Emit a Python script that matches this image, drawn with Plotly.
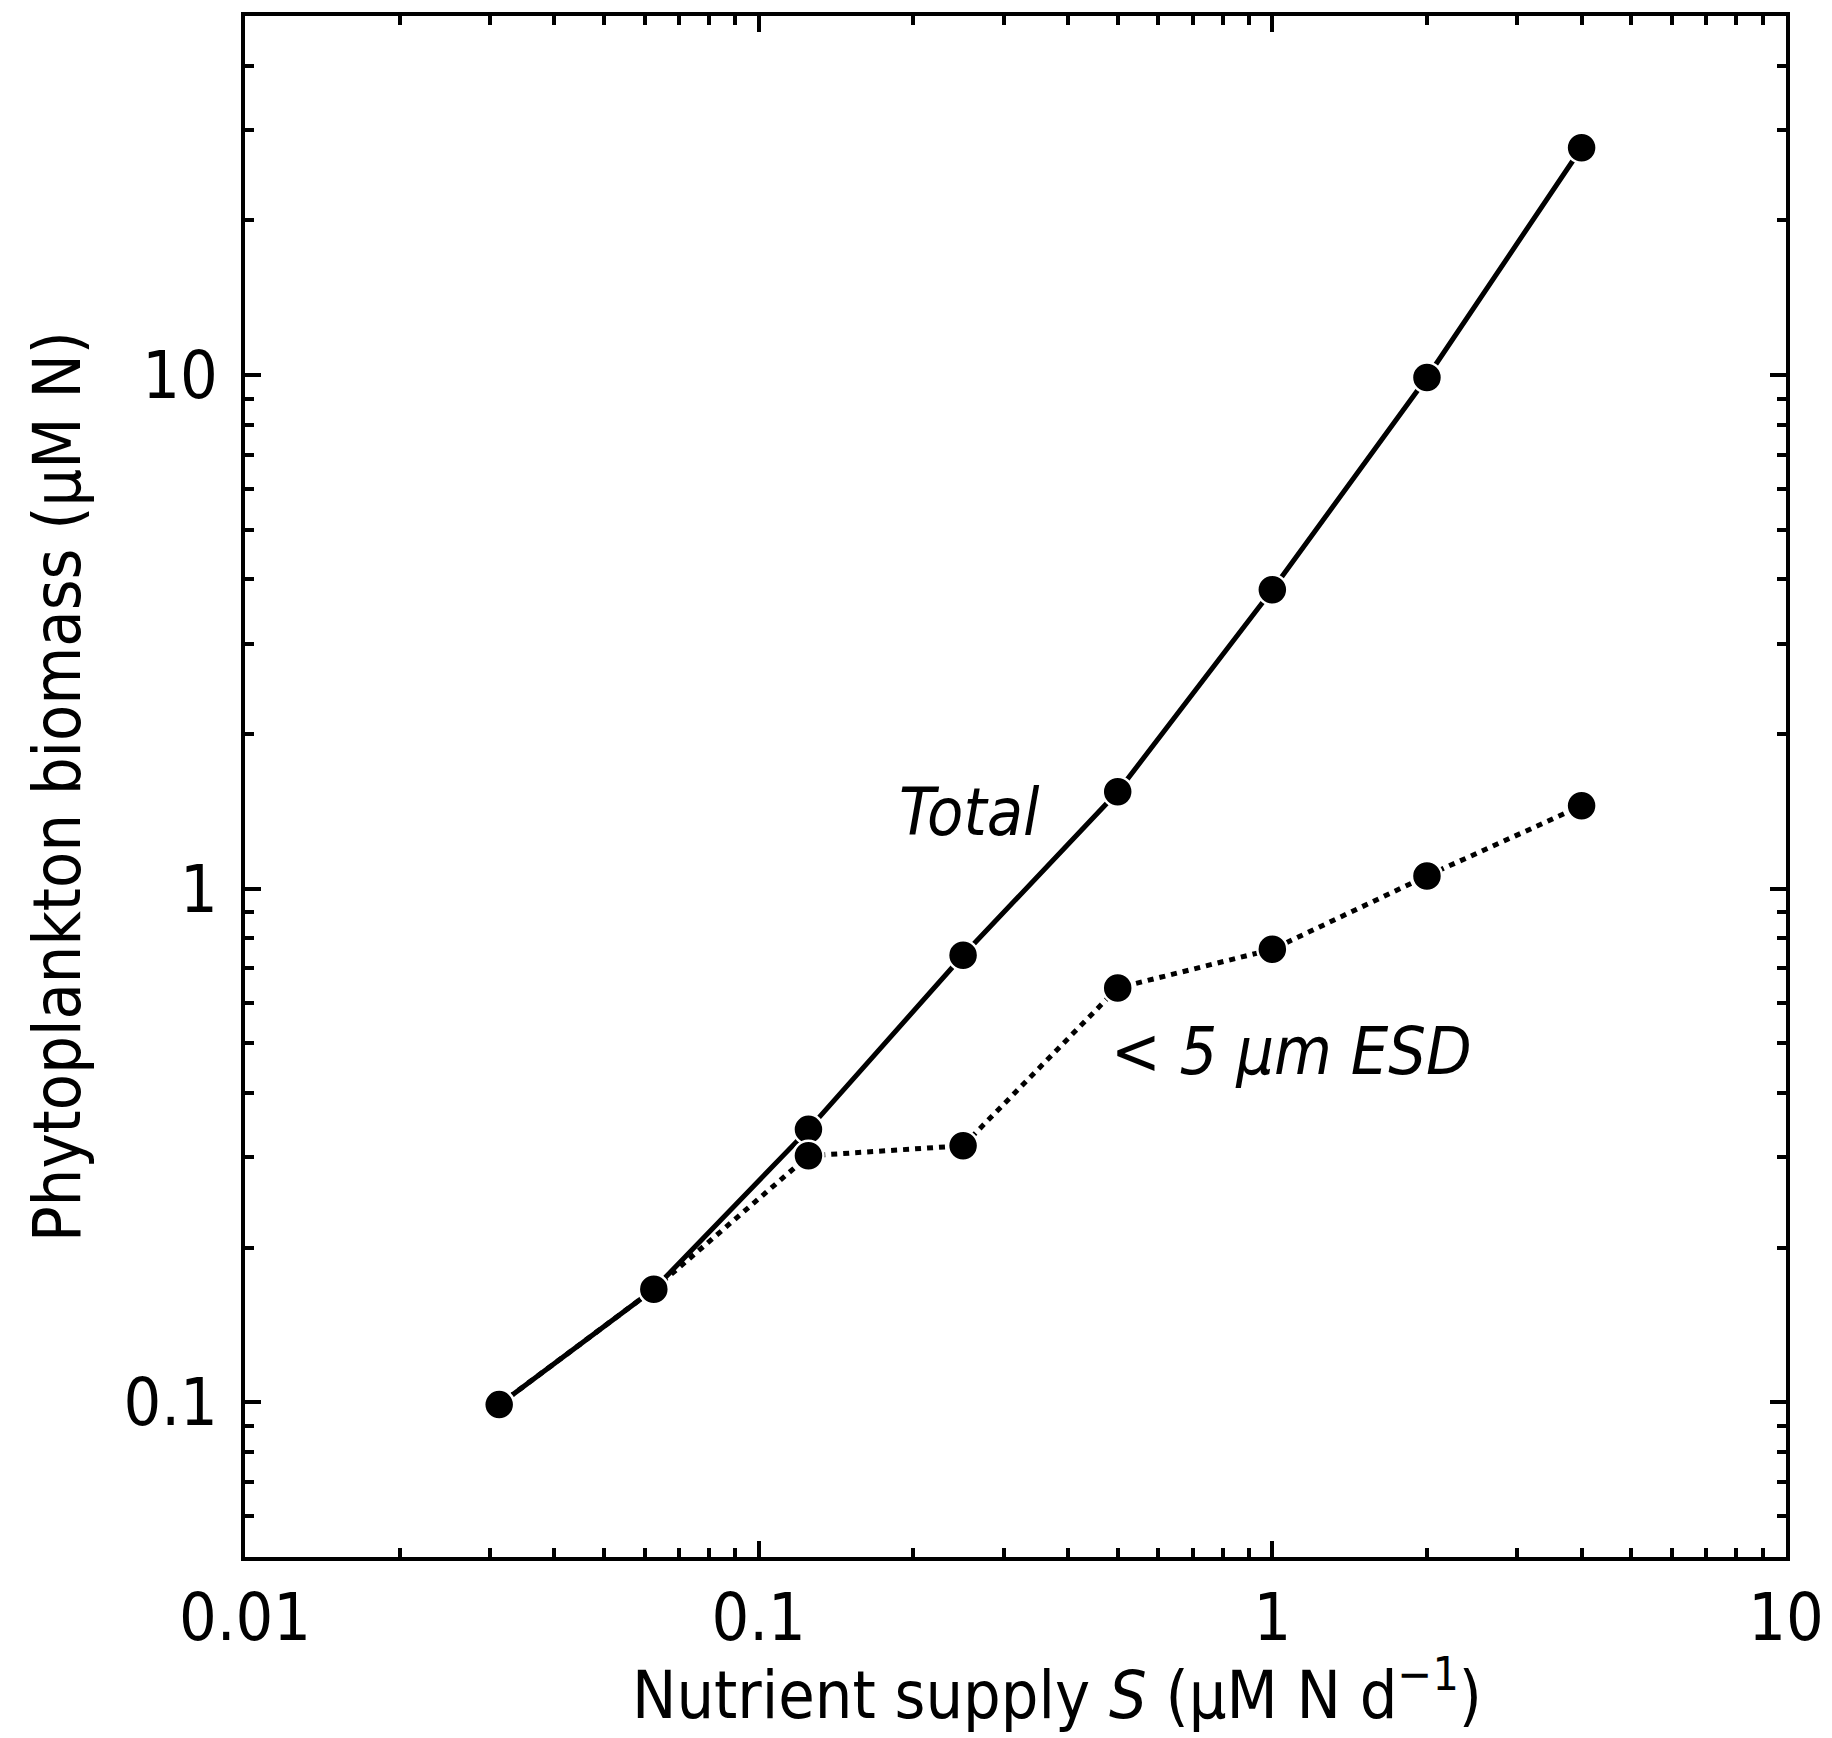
import plotly.graph_objects as go

# ---- data ----
supply = [0.03125, 0.0625, 0.125, 0.25, 0.5, 1, 2, 4]
total_biomass = [0.099, 0.166, 0.340, 0.742, 1.544, 3.82, 9.89, 27.7]
small_biomass = [0.099, 0.166, 0.302, 0.316, 0.641, 0.762, 1.059, 1.45]

x_tickvals = [0.01, 0.1, 1, 10]
x_ticktext = ["0.01", "0.1", "1", "10"]
y_tickvals = [0.1, 1, 10]
y_ticktext = ["0.1", "1", "10"]
x_minorvals = [0.02, 0.03, 0.04, 0.05, 0.06, 0.07, 0.08, 0.09,
               0.2, 0.3, 0.4, 0.5, 0.6, 0.7, 0.8, 0.9,
               2, 3, 4, 5, 6, 7, 8, 9]
y_minorvals = [0.06, 0.07, 0.08, 0.09,
               0.2, 0.3, 0.4, 0.5, 0.6, 0.7, 0.8, 0.9,
               2, 3, 4, 5, 6, 7, 8, 9, 20, 30, 40]

FONT = "Liberation Sans Narrow, DejaVu Sans Condensed, Arial Narrow, sans-serif"
FS = 66

fig = go.Figure()
fig.add_trace(go.Scatter(
    x=supply, y=total_biomass, mode="lines+markers",
    line=dict(color="black", width=5),
    marker=dict(size=30, color="black", line=dict(color="white", width=2.5)),
    showlegend=False))
fig.add_trace(go.Scatter(
    x=supply, y=small_biomass, mode="lines+markers",
    line=dict(color="black", width=5, dash="6px,6px"),
    marker=dict(size=30, color="black", line=dict(color="white", width=2.5)),
    showlegend=False))

fig.add_annotation(x=-0.589, y=0.149, xref="x", yref="y", text="<i>Total</i>",
                   showarrow=False, font=dict(family=FONT, size=FS, color="black"))
fig.add_annotation(x=0.038, y=-0.316, xref="x", yref="y", text="<i>< 5 µm ESD</i>",
                   showarrow=False, font=dict(family=FONT, size=FS, color="black"))

# x-axis title (placed slightly right of centre, as in the original)
fig.add_annotation(x=0.527, y=0, xref="paper", yref="paper",
                   xanchor="center", yanchor="middle", yshift=-133,
                   text="Nutrient supply <i>S</i> (µM N d<sup>−1</sup>)",
                   showarrow=False, font=dict(family=FONT, size=FS, color="black"))

axis_common = dict(
    type="log", showgrid=False, zeroline=False,
    showline=True, linecolor="black", linewidth=4, mirror="allticks",
    ticks="inside", ticklen=16, tickwidth=4, tickcolor="black",
    tickfont=dict(family=FONT, size=FS, color="black"),
)

fig.update_xaxes(
    **axis_common, range=[-2, 1], tickmode="array",
    tickvals=x_tickvals, ticktext=x_ticktext,
    minor=dict(tickmode="array", tickvals=x_minorvals, ticks="inside",
               ticklen=9, tickwidth=4, tickcolor="black"),
)
fig.update_yaxes(
    **axis_common, range=[-1.30103, 1.69897], tickmode="array",
    tickvals=y_tickvals, ticktext=y_ticktext,
    ticklabelstandoff=10,
    minor=dict(tickmode="array", tickvals=y_minorvals, ticks="inside",
               ticklen=9, tickwidth=4, tickcolor="black"),
    title=dict(text="Phytoplankton biomass (µM N)",
               font=dict(family=FONT, size=FS, color="black"), standoff=22),
)

fig.update_layout(
    width=1824, height=1730,
    margin=dict(l=237, r=46, t=8, b=181, autoexpand=False),
    paper_bgcolor="white", plot_bgcolor="white",
    font=dict(family=FONT, size=FS, color="black"),
)

fig.write_html("out.html")
